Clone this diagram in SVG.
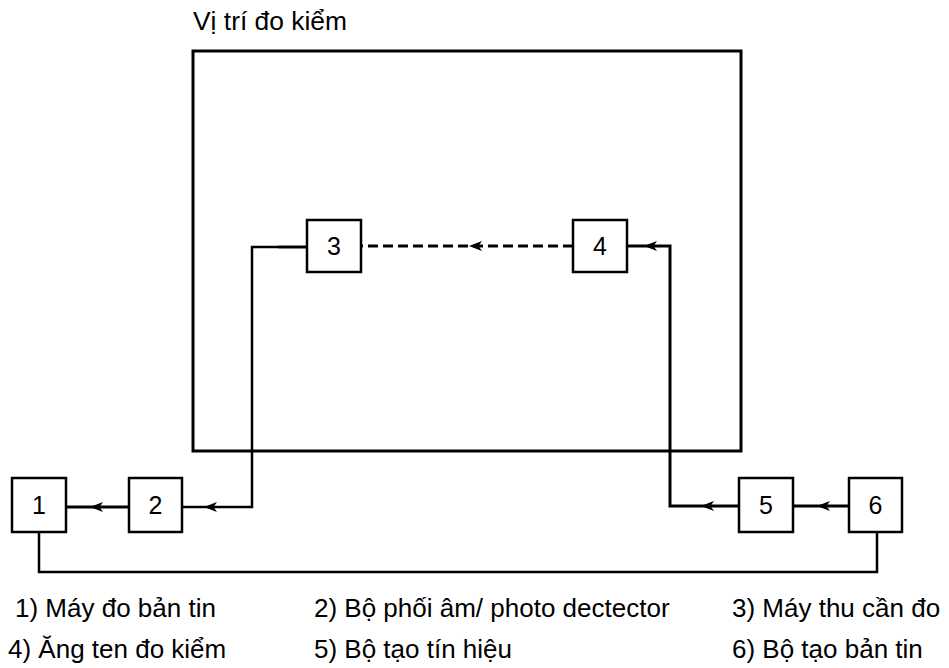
<svg xmlns="http://www.w3.org/2000/svg" xmlns:xlink="http://www.w3.org/1999/xlink" width="949" height="668" viewBox="0 0 949 668">
<style>
.bx{fill:#fff;stroke:#000;stroke-width:2.5}
.num{font-family:"Liberation Sans",Arial,sans-serif;font-size:25px;text-anchor:middle;fill:#000}
.lbl{font-family:"Liberation Sans",Arial,sans-serif;font-size:26px;fill:#000}
.ln{fill:none;stroke:#000;stroke-width:3}
.thin{fill:none;stroke:#000;stroke-width:2.5}
.dash{fill:none;stroke:#000;stroke-width:3;stroke-dasharray:10 5}
</style>
<defs>
<path id="ah" d="M0,0 L13,-5 L9.5,0 L13,5 Z" fill="#000"/>
</defs>
<rect x="0" y="0" width="949" height="668" fill="#fff"/>
<g id="site">
<rect x="193" y="51" width="548" height="400" fill="none" stroke="#000" stroke-width="3"/>
<text class="lbl" x="193" y="30" textLength="154" lengthAdjust="spacingAndGlyphs">Vị trí đo kiểm</text>
</g>
<g id="connectors">
<polyline class="thin" points="278,247 252,247 252,507 182,507"/>
<line class="ln" x1="278" y1="247" x2="307" y2="247" stroke-width="3.5"/>
<line class="ln" x1="129" y1="507" x2="66" y2="507" stroke-width="3.5"/>
<polyline class="ln" points="739,506 670,506 670,246 627,246"/>
<line class="ln" x1="849" y1="506" x2="793" y2="506"/>
<line class="dash" x1="573" y1="246" x2="361" y2="246"/>
<polyline class="thin" points="39,532 39,572 877,572 877,532"/>
<use xlink:href="#ah" href="#ah" x="90" y="507"/>
<use xlink:href="#ah" href="#ah" x="204" y="507"/>
<use xlink:href="#ah" href="#ah" x="701" y="506"/>
<use xlink:href="#ah" href="#ah" x="817" y="506"/>
<use xlink:href="#ah" href="#ah" x="644" y="246"/>
<use xlink:href="#ah" href="#ah" x="469" y="246"/>
</g>
<g id="n1"><rect class="bx" x="12" y="478" width="54" height="54"/><text class="num" x="39" y="514">1</text></g>
<g id="n2"><rect class="bx" x="129" y="478" width="53" height="54"/><text class="num" x="155.5" y="514">2</text></g>
<g id="n3"><rect class="bx" x="307" y="220" width="54" height="52"/><text class="num" x="334" y="255">3</text></g>
<g id="n4"><rect class="bx" x="573" y="220" width="54" height="52"/><text class="num" x="600" y="255">4</text></g>
<g id="n5"><rect class="bx" x="739" y="478" width="54" height="54"/><text class="num" x="766" y="514">5</text></g>
<g id="n6"><rect class="bx" x="849" y="478" width="53" height="54"/><text class="num" x="875.5" y="514">6</text></g>
<g id="legend">
<text class="lbl" x="15" y="617">1) Máy đo bản tin</text>
<text class="lbl" x="314" y="617">2) Bộ phối âm/ photo dectector</text>
<text class="lbl" x="732" y="617">3) Máy thu cần đo</text>
<text class="lbl" x="8" y="658">4) Ăng ten đo kiểm</text>
<text class="lbl" x="314" y="658">5) Bộ tạo tín hiệu</text>
<text class="lbl" x="732" y="658">6) Bộ tạo bản tin</text>
</g>
</svg>
